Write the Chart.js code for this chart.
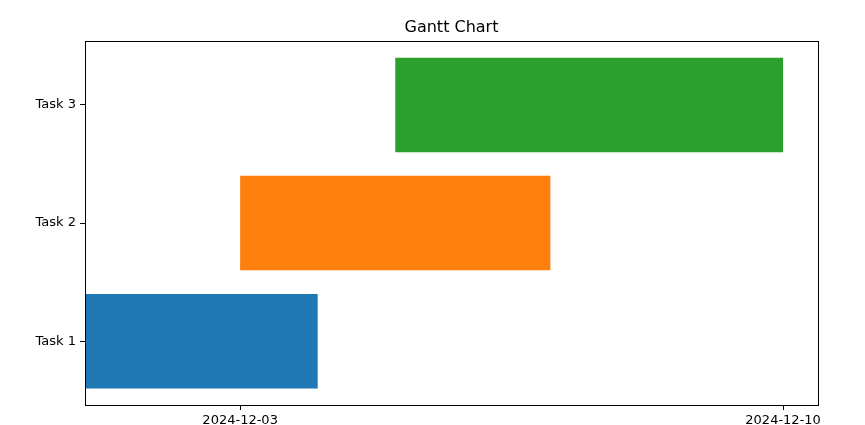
<!DOCTYPE html>
<html>
<head>
<meta charset="utf-8">
<script src="https://cdn.jsdelivr.net/npm/chart.js@4"></script>
<style>
    html, body { margin: 0; padding: 0; background: #fff; }
    canvas { display: block; }
</style>
</head>
<body>
<canvas id="gantt" width="865" height="425"></canvas>
<script>
"use strict";

// タスク名
const taskNames = ['Task 1', 'Task 2', 'Task 3'];
// 開始日
const startDates = ['2024-12-01', '2024-12-03', '2024-12-05'];
// 終了日
const endDates = ['2024-12-04', '2024-12-07', '2024-12-10'];
// 色
const taskColors = ['#1f77b4', '#ff7f0e', '#2ca02c'];
// x軸の目盛り
const tickLabels = ['2024-12-03', '2024-12-10'];
// x軸の範囲（日付）
const rangeStart = '2024-12-01';
const rangeEnd = '2024-12-10';

const DAY = 86400000;
const base = Date.parse(rangeStart);
const dayOf = s => (Date.parse(s) - base) / DAY;

// 枠線（上・右も描く）
const framePlugin = {
    id: 'frame',
    afterDraw(chart) {
        const a = chart.chartArea;
        const ctx = chart.ctx;
        ctx.save();
        ctx.strokeStyle = '#000';
        ctx.lineWidth = 1;
        ctx.strokeRect(Math.round(a.left) + 0.5, Math.round(a.top) + 0.5,
            Math.round(a.right - a.left), Math.round(a.bottom - a.top));
        ctx.restore();
    }
};

Chart.defaults.font.family = '"DejaVu Sans", sans-serif';
Chart.defaults.color = '#000';

const span = dayOf(rangeEnd);
const config = {
    type: 'bar',
    data: {
        datasets: [{
            data: taskNames.map((t, i) => ({ x: [dayOf(startDates[i]), dayOf(endDates[i])], y: i })),
            backgroundColor: taskColors,
            borderWidth: 0,
            barPercentage: 1.0,
            categoryPercentage: 0.8
        }]
    },
    options: {
        indexAxis: 'y',
        responsive: false,
        animation: false,
        devicePixelRatio: 1,
        layout: { padding: { left: 0, right: 47, top: 0, bottom: 0 } },
        plugins: {
            legend: { display: false },
            tooltip: { enabled: false },
            title: {
                display: true,
                fullSize: false,
                text: 'Gantt Chart',
                font: { size: 16, weight: 'normal' },
                color: '#000',
                padding: { top: 18, bottom: 4 }
            }
        },
        scales: {
            x: {
                type: 'linear',
                min: 0,
                max: span + span * 0.05,
                afterBuildTicks: scale => {
                    scale.ticks = tickLabels.map(s => ({ value: dayOf(s) }));
                },
                afterFit: scale => { scale.height = 20; },
                ticks: {
                    font: { size: 13 },
                    padding: 3,
                    maxRotation: 0,
                    autoSkip: false,
                    callback: value => new Date(base + value * DAY).toISOString().slice(0, 10)
                },
                grid: {
                    drawOnChartArea: false,
                    tickLength: 5,
                    tickColor: '#000'
                },
                border: { color: '#000', width: 1 }
            },
            y: {
                type: 'linear',
                min: -0.54,
                max: 2.54,
                offset: false,
                afterBuildTicks: scale => {
                    scale.ticks = taskNames.map((t, i) => ({ value: i }));
                },
                afterFit: scale => { scale.width = 85; },
                ticks: {
                    font: { size: 13 },
                    padding: 4,
                    callback: value => taskNames[value]
                },
                grid: {
                    offset: false,
                    drawOnChartArea: false,
                    tickLength: 5,
                    tickColor: '#000'
                },
                border: { color: '#000', width: 1 }
            }
        }
    },
    plugins: [framePlugin]
};

new Chart(document.getElementById('gantt'), config);
</script>
</body>
</html>
